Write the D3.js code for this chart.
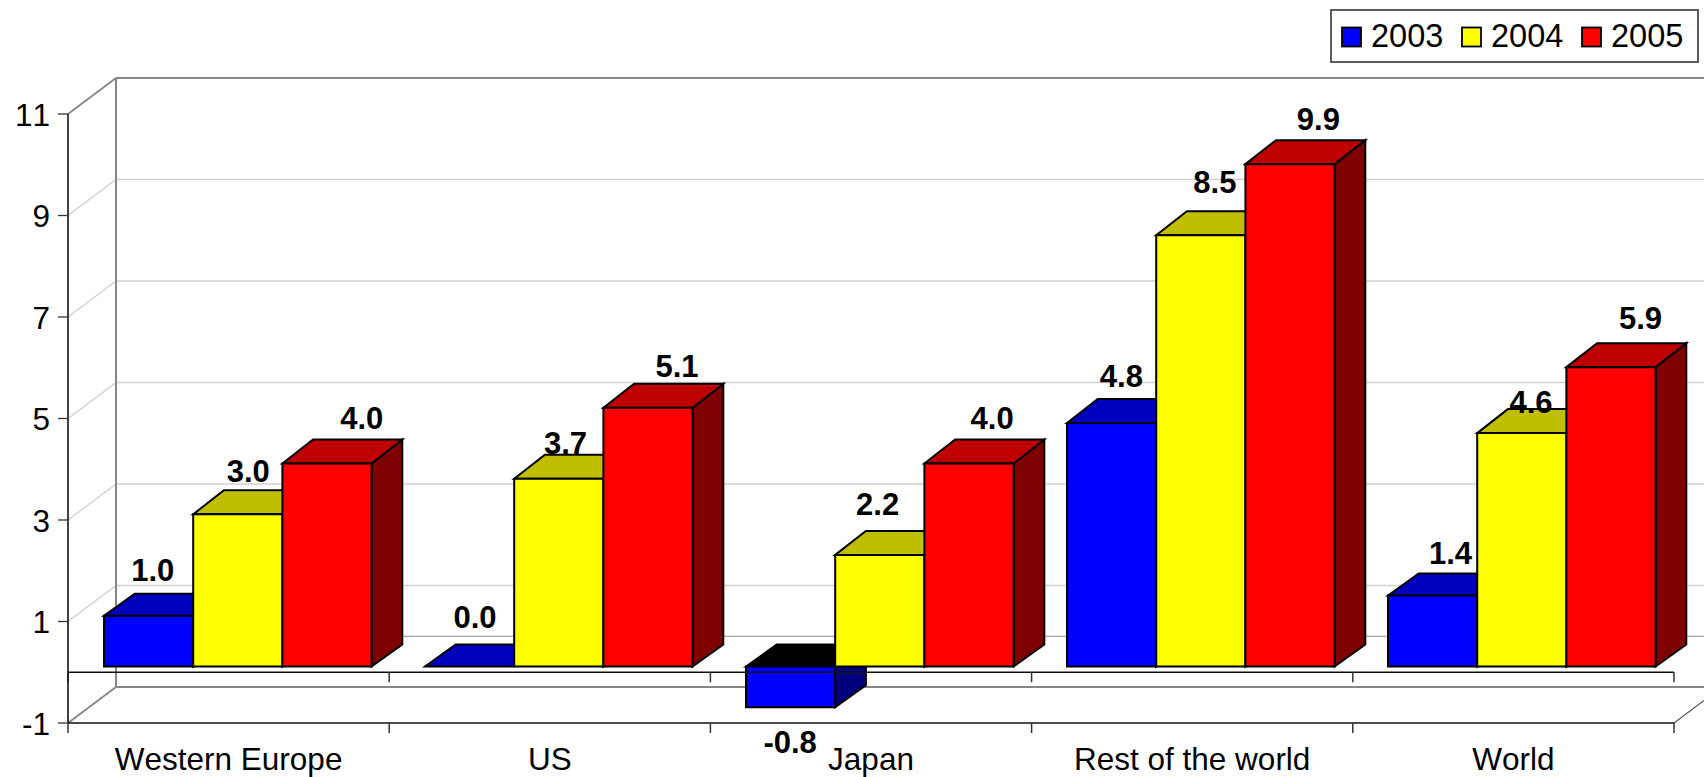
<!DOCTYPE html>
<html><head><meta charset="utf-8">
<style>
html,body{margin:0;padding:0;background:#fff;overflow:hidden}
svg{display:block;font-family:"Liberation Sans",Arial,sans-serif;font-kerning:none}
</style>
<script src="https://cdn.jsdelivr.net/npm/d3@7/dist/d3.min.js"></script>
</head><body>
<svg id="c" width="1704" height="777"></svg>
<script>
const categories = ["Western Europe","US","Japan","Rest of the world","World"];
const seriesNames = ["2003","2004","2005"];
const values2003 = [1.0,0.0,-0.8,4.8,1.4];
const values2004 = [3.0,3.7,2.2,8.5,4.6];
const values2005 = [4.0,5.1,4.0,9.9,5.9];
const yTicks = [-1,1,3,5,7,9,11];
const gridValues = [1,3,5,7,9];
const labelNudgeX = [[4,10,34],[5,6,28],[-1,-3,22],[9,13,27],[17,8,28]];
const labelLift = [[35,32,35],[39,25,31],[-46,40,35],[36,42,34],[32,20,38]];

const seriesColors = [
 {front:"#0000ff",top:"#0000bf",side:"#00007f"},
 {front:"#ffff00",top:"#bfbf00",side:"#7f7f00"},
 {front:"#ff0000",top:"#bf0000",side:"#7f0000"}];
const allSeries = [values2003,values2004,values2005];
const hyphen = s => String(s).replace("\u2212","-");

const svg = d3.select("#c");
const y = d3.scaleLinear().domain([-1,11]).range([723,114]);
const x0 = d3.scaleBand().domain(categories).range([68,1674]);
const xEdge = d3.scaleLinear().domain([0,5]).range([68,1674]);
const xBars = d3.scalePoint().domain(categories).range([104,1388]);
const wallDx = 48, wallDy = -36;      // floor/wall depth
const barOff = 36, barW = 89.2;       // bar inset and width
const labelBarW = 89.5;
const barLift = -5.7;                 // bars sit slightly behind the axis plane
const depthDx = 30.7, depthDy = -22;  // bar depth
const W = 1704;

const line = (x1,y1,x2,y2,c,w)=>svg.append("line").attr("x1",x1).attr("y1",y1).attr("x2",x2).attr("y2",y2).attr("stroke",c).attr("stroke-width",w);

// gridlines on back wall + left wall
gridValues.forEach(v=>{
  line(116,y(v)+wallDy,W,y(v)+wallDy,"#d0d0d0",1.3);
  line(68,y(v),116,y(v)+wallDy,"#cccccc",1.1);
});
line(116,y(0)+wallDy,W,y(0)+wallDy,"#8c8c8c",1.2);
// walls
line(116,y(11)+wallDy,W,y(11)+wallDy,"#868686",2);
line(116,y(11)+wallDy,116,y(-1)+wallDy,"#868686",2);
line(68,y(11),116,y(11)+wallDy,"#868686",1.8);
line(68,y(-1),116,y(-1)+wallDy,"#868686",1.8);
line(116,y(-1)+wallDy,W,y(-1)+wallDy,"#868686",2);
line(1674,y(-1),W,y(-1)-22.5,"#555",1.2);

// bars
const barsG = svg.append("g");
const poly = (pts,fill)=>barsG.append("polygon").attr("points",pts.map(p=>p.join(",")).join(" "))
  .attr("fill",fill).attr("stroke","#000").attr("stroke-width",2).attr("stroke-linejoin","miter");
categories.forEach((cat,ci)=>{
  allSeries.forEach((vals,si)=>{
    const v = vals[ci], c = seriesColors[si];
    const xl = xBars(cat)+si*barW, xr = xl+barW;
    const yb = y(0)+barLift, yt = y(v)+barLift;
    const yTop = Math.min(yb,yt), yBot = Math.max(yb,yt);
    const topDy = v >= 2 ? depthDy-2 : depthDy;
    poly([[xr,yBot],[xr+depthDx,yBot+depthDy],[xr+depthDx,yTop+topDy],[xr,yTop]],c.side);
    poly([[xl,yTop],[xl+depthDx,yTop+topDy],[xr+depthDx,yTop+topDy],[xr,yTop]],v<0?"#000":c.top);
    if(v!==0) poly([[xl,yTop],[xr,yTop],[xr,yBot],[xl,yBot]],c.front);
  });
});
// zero axis plane above bars, and the floor-edge axis
edgeTicks(y(0));
edgeTicks(y(-1));
function edgeTicks(yy){
  const a = d3.axisBottom(xEdge).tickValues(d3.range(0,6)).tickSize(10).tickSizeOuter(0).tickFormat("").offset(0);
  const g = svg.append("g").attr("transform",`translate(0,${yy})`).call(a);
  g.select(".domain").attr("stroke","#111").attr("stroke-width",1.5);
  g.selectAll("line").attr("stroke","#333").attr("stroke-width",1.5);
}

// value axis
const ya = svg.append("g").attr("transform","translate(68,0)")
  .call(d3.axisLeft(y).tickValues(yTicks).tickSize(10).tickSizeOuter(0).tickPadding(8).offset(0).tickFormat(d=>hyphen(d3.format("d")(d))));
ya.select(".domain").attr("stroke","#111").attr("stroke-width",1.6);
ya.selectAll("line").attr("stroke","#333").attr("stroke-width",1.3);
ya.selectAll("text").attr("font-size",31.5).attr("font-family","Liberation Sans").attr("fill","#000")
  .attr("dy",null).attr("y",11.5);

// category axis
const xa = svg.append("g").attr("transform",`translate(0,${y(-1)})`)
  .call(d3.axisBottom(x0).tickSize(0).tickPadding(0).offset(0));
xa.select(".domain").remove();
xa.selectAll("text").attr("font-size",31.5).attr("font-family","Liberation Sans").attr("fill","#000")
  .attr("dy",null).attr("y",47);

// data labels
categories.forEach((cat,ci)=>{
  allSeries.forEach((vals,si)=>{
    const v = vals[ci];
    svg.append("text")
      .attr("x",x0(cat)+barOff+si*labelBarW+labelBarW/2+labelNudgeX[ci][si])
      .attr("y",y(v)+barLift-labelLift[ci][si])
      .attr("text-anchor","middle").attr("font-size",31).attr("font-weight","bold").attr("fill","#000")
      .text(hyphen(d3.format(".1f")(v)));
  });
});

// legend
const leg = svg.append("g");
leg.append("rect").attr("x",1331).attr("y",10).attr("width",367).attr("height",52)
  .attr("fill","#fff").attr("stroke","#333").attr("stroke-width",1.6);
const legX = d3.scalePoint().domain(seriesNames).range([1342,1582]);
seriesNames.forEach((s,i)=>{
  leg.append("rect").attr("x",legX(s)).attr("y",27.5).attr("width",19).attr("height",19)
    .attr("fill",seriesColors[i].front).attr("stroke","#000").attr("stroke-width",1.8);
  leg.append("text").attr("x",legX(s)+29).attr("y",47).attr("font-size",32.5).attr("fill","#000").text(s);
});
</script>
</body></html>
